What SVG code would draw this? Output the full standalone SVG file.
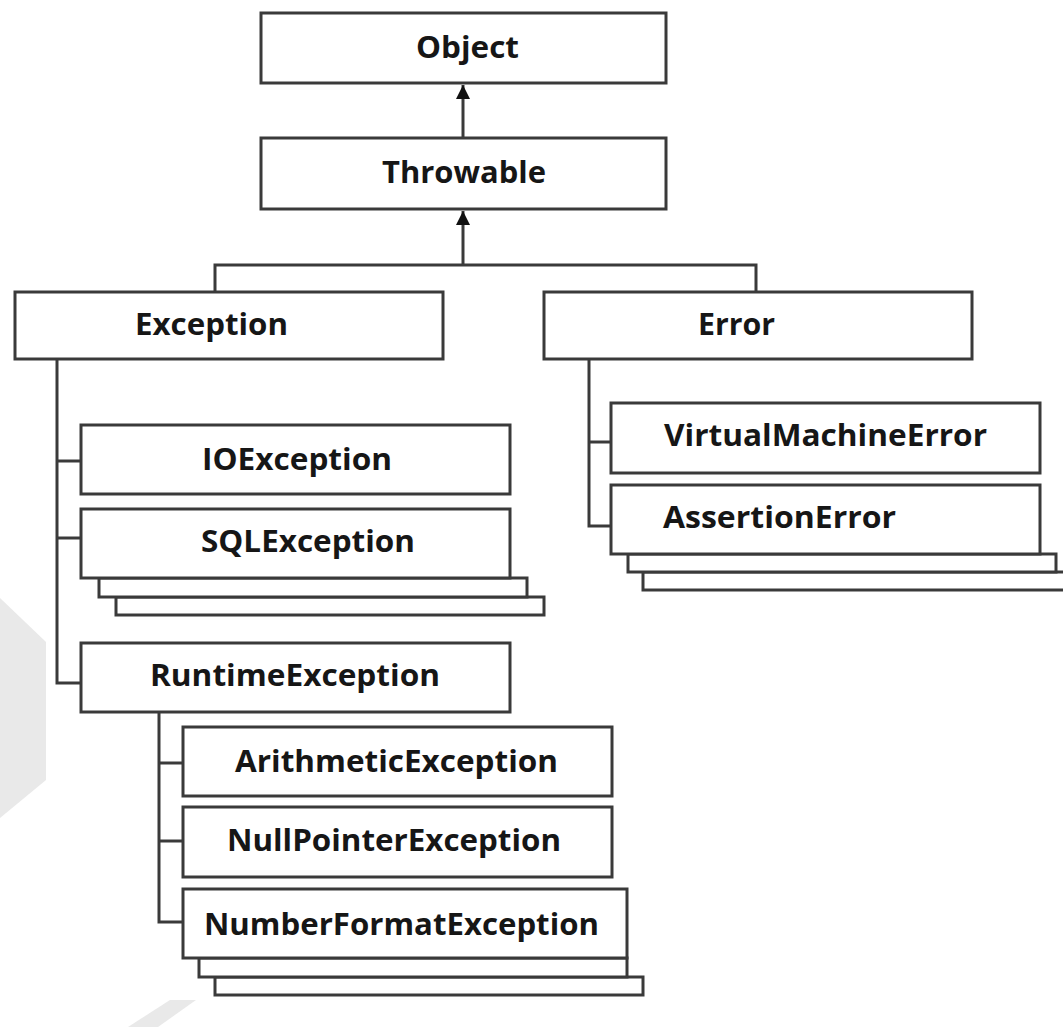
<svg xmlns="http://www.w3.org/2000/svg" width="1063" height="1027" viewBox="0 0 1063 1027">
  <style>
    .box { fill: #ffffff; stroke: #3a3a3a; stroke-width: 3; }
    .lbl { font-family: "Open Sans", "Liberation Sans", sans-serif; font-weight: 700; font-size: 31px; fill: #161616; }
    .con { fill: none; stroke: #3a3a3a; stroke-width: 3; }
    .wm { fill: #e9e9e9; }
  </style>
  <defs>
    <marker id="arrow" viewBox="0 0 14 14" refX="14" refY="7" markerWidth="14" markerHeight="14" markerUnits="userSpaceOnUse" orient="auto">
      <path d="M0,0 L14,7 L0,14 Z" fill="#111111"/>
    </marker>
  </defs>
  <rect width="1063" height="1027" fill="#ffffff"/>

  <g id="watermark">
    <polygon class="wm" points="0,598 46,642 46,780 0,818"/>
    <polygon class="wm" points="170,1000 196,1000 158,1027 128,1027"/>
  </g>

  <g id="connectors">
    <line class="con" x1="463" y1="138" x2="463" y2="85" marker-end="url(#arrow)"/>
    <path class="con" d="M215,292 V265 H756 V292"/>
    <line class="con" x1="463" y1="265" x2="463" y2="211" marker-end="url(#arrow)"/>
    <path class="con" d="M57,359 V683 H81"/>
    <path class="con" d="M57,461 H81"/>
    <path class="con" d="M57,538 H81"/>
    <path class="con" d="M159,712 V922 H183"/>
    <path class="con" d="M159,763 H183"/>
    <path class="con" d="M159,841 H183"/>
    <path class="con" d="M589,359 V526 H611"/>
    <path class="con" d="M589,442 H611"/>
  </g>

  <g id="node-object">
    <rect class="box" x="261" y="13" width="405" height="70"/>
    <text class="lbl" x="416" y="58" textLength="103" lengthAdjust="spacingAndGlyphs">Object</text>
  </g>
  <g id="node-throwable">
    <rect class="box" x="261" y="138" width="405" height="71"/>
    <text class="lbl" x="382" y="183" textLength="164" lengthAdjust="spacingAndGlyphs">Throwable</text>
  </g>
  <g id="node-exception">
    <rect class="box" x="15" y="292" width="428" height="67"/>
    <text class="lbl" x="135" y="335" textLength="153" lengthAdjust="spacingAndGlyphs">Exception</text>
  </g>
  <g id="node-error">
    <rect class="box" x="544" y="292" width="428" height="67"/>
    <text class="lbl" x="698" y="335" textLength="77" lengthAdjust="spacingAndGlyphs">Error</text>
  </g>
  <g id="node-ioexception">
    <rect class="box" x="81" y="425" width="429" height="69"/>
    <text class="lbl" x="202" y="470" textLength="190" lengthAdjust="spacingAndGlyphs">IOException</text>
  </g>
  <g id="node-sqlexception">
    <rect class="box" x="116" y="597" width="428" height="18"/>
    <rect class="box" x="99" y="578" width="428" height="19"/>
    <rect class="box" x="81" y="509" width="429" height="69"/>
    <text class="lbl" x="201" y="552" textLength="214" lengthAdjust="spacingAndGlyphs">SQLException</text>
  </g>
  <g id="node-runtimeexception">
    <rect class="box" x="81" y="643" width="429" height="69"/>
    <text class="lbl" x="150" y="686" textLength="290" lengthAdjust="spacingAndGlyphs">RuntimeException</text>
  </g>
  <g id="node-arithmeticexception">
    <rect class="box" x="183" y="727" width="429" height="69"/>
    <text class="lbl" x="235" y="772" textLength="323" lengthAdjust="spacingAndGlyphs">ArithmeticException</text>
  </g>
  <g id="node-nullpointerexception">
    <rect class="box" x="183" y="807" width="429" height="70"/>
    <text class="lbl" x="227" y="851" textLength="334" lengthAdjust="spacingAndGlyphs">NullPointerException</text>
  </g>
  <g id="node-numberformatexception">
    <rect class="box" x="215" y="977" width="428" height="18"/>
    <rect class="box" x="199" y="958" width="428" height="19"/>
    <rect class="box" x="183" y="889" width="444" height="69"/>
    <text class="lbl" x="204" y="935" textLength="395" lengthAdjust="spacingAndGlyphs">NumberFormatException</text>
  </g>
  <g id="node-virtualmachineerror">
    <rect class="box" x="611" y="403" width="429" height="70"/>
    <text class="lbl" x="664" y="446" textLength="323" lengthAdjust="spacingAndGlyphs">VirtualMachineError</text>
  </g>
  <g id="node-assertionerror">
    <rect class="box" x="643" y="572" width="430" height="18"/>
    <rect class="box" x="628" y="554" width="428" height="18"/>
    <rect class="box" x="611" y="485" width="429" height="69"/>
    <text class="lbl" x="663" y="528" textLength="233" lengthAdjust="spacingAndGlyphs">AssertionError</text>
  </g>
</svg>
